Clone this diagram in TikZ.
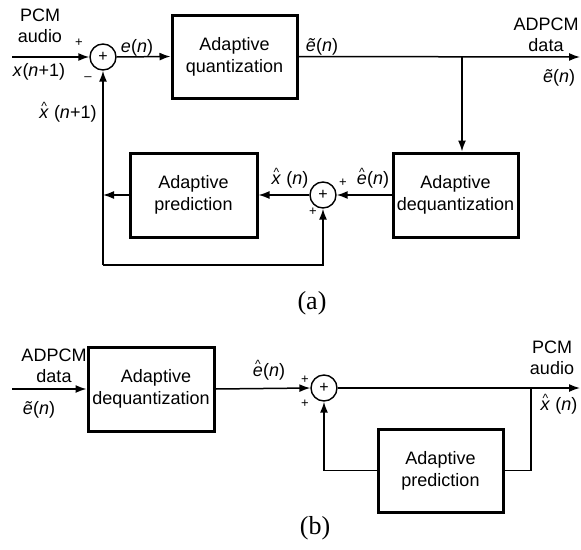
\documentclass[tikz,border=0pt]{standalone}
\usepackage{fontspec}
\setmainfont{Liberation Sans}
\newfontfamily\capfont{Liberation Serif}
\usetikzlibrary{arrows.meta}
\newcommand\hatit[1]{\hbox{\ooalign{\textit{#1}\cr\hidewidth\raisebox{8pt}{\fontsize{12}{12}\selectfont\textasciicircum}\hidewidth\cr}}}
\newcommand\tilit[1]{\textit{\~{#1}}}
\tikzset{
  lab/.style={font=\fontsize{18}{21}\selectfont, inner sep=0pt, align=center},
  blk/.style={draw, line width=3pt, align=center, inner sep=0pt, font=\fontsize{18}{22}\selectfont},
  sumc/.style={circle, draw, line width=1.4pt, minimum size=26pt, inner sep=0pt, font=\fontsize{16}{16}\selectfont},
  sgn/.style={font=\fontsize{13}{13}\selectfont, inner sep=0pt},
  conn/.style={line width=1.5pt, -{Latex[length=11pt,width=8pt]}},
  wire/.style={line width=1.5pt},
  captxt/.style={font=\capfont\fontsize{26}{26}\selectfont, inner sep=0pt}
}
\begin{document}
\begin{tikzpicture}[x=1pt,y=-1pt]
\useasboundingbox (0,0) rectangle (581,549);
% ---------- (a) ----------
\node[sumc] (s1) at (103,57) {+};
\node[blk, minimum width=125pt, minimum height=83pt] (q) at (234.5,56.5) {Adaptive\\quantization};
\node[blk, minimum width=125pt, minimum height=84pt] (dq) at (455.5,195) {Adaptive\\dequantization};
\node[blk, minimum width=127pt, minimum height=84pt] (pa) at (193.5,195) {Adaptive\\prediction};
\node[sumc] (s2) at (323,195) {+};
\coordinate (ina) at (12,57);
\coordinate (outa) at (580,57);
\coordinate (bra) at (462,57);
\coordinate (fb) at (103,195);
\coordinate (lc) at (103,265);

\draw[conn] (ina) -- (s1.west);
\draw[conn] (s1.east) -- (q.west);
\draw[conn] (q.east) -- (outa);
\draw[conn] (bra) -- (bra |- dq.north);
\draw[conn] (dq.west) -- (s2.east);
\draw[conn] (s2.west) -- (pa.east);
\draw[conn] (pa.west) -- (fb);
\draw[conn] (lc) -- (s1.south);
\draw[conn] (lc) -| (s2.south);

\node[lab] (pcm1) at (40,26) {PCM\\audio};
\node[lab] (xin) at (39,72) {\textit{x}(\textit{n}+1)};
\node[sgn] (p1) at (79,43) {+};
\node[sgn] (m1) at (88,79) {\textendash};
\node[lab] (en) at (137,48) {\textit{e}(\textit{n})};
\node[lab] (et1) at (322,47) {\tilit{e}(\textit{n})};
\node[lab] (adp1) at (546,35) {ADPCM\\data};
\node[lab] (et2) at (559,78) {\tilit{e}(\textit{n})};
\node[lab] (xh1) at (68,114) {\hatit{x} (\textit{n}+1)};
\node[lab] (eh1) at (373,180) {\hatit{e}(\textit{n})};
\node[sgn] (p2) at (343,183) {+};
\node[sgn] (p3) at (313,212) {+};
\node[lab] (xh2) at (290,180) {\hatit{x} (\textit{n})};
\node[captxt] (ca) at (312,303) {(a)};

% ---------- (b) ----------
\node[blk, minimum width=126pt, minimum height=84pt] (dqb) at (151,389) {\hspace*{10pt}Adaptive\\dequantization};
\node[sumc] (s3) at (324,388) {+};
\node[blk, minimum width=125pt, minimum height=83pt] (pb) at (440.5,470.5) {Adaptive\\prediction};
\coordinate (inb) at (12,389);
\coordinate (outb) at (580,388);
\coordinate (brb) at (531,388);

\draw[conn] (inb) -- (dqb.west);
\draw[conn] (dqb.east) -- (s3.west);
\draw[conn] (s3.east) -- (outb);
\draw[wire] (brb) |- (pb.east);
\draw[conn] (pb.west) -| (s3.south);

\node[lab] (adp2) at (54,366) {ADPCM\\data};
\node[lab] (et3) at (39,410) {\tilit{e}(\textit{n})};
\node[lab] (eh2) at (269,372) {\hatit{e}(\textit{n})};
\node[sgn] (p4) at (305,380) {+};
\node[sgn] (p5) at (305,404) {+};
\node[lab] (pcm2) at (552,358) {PCM\\audio};
\node[lab] (xh3) at (559,406) {\hatit{x} (\textit{n})};
\node[captxt] (cb) at (315,528) {(b)};
\end{tikzpicture}
\end{document}
